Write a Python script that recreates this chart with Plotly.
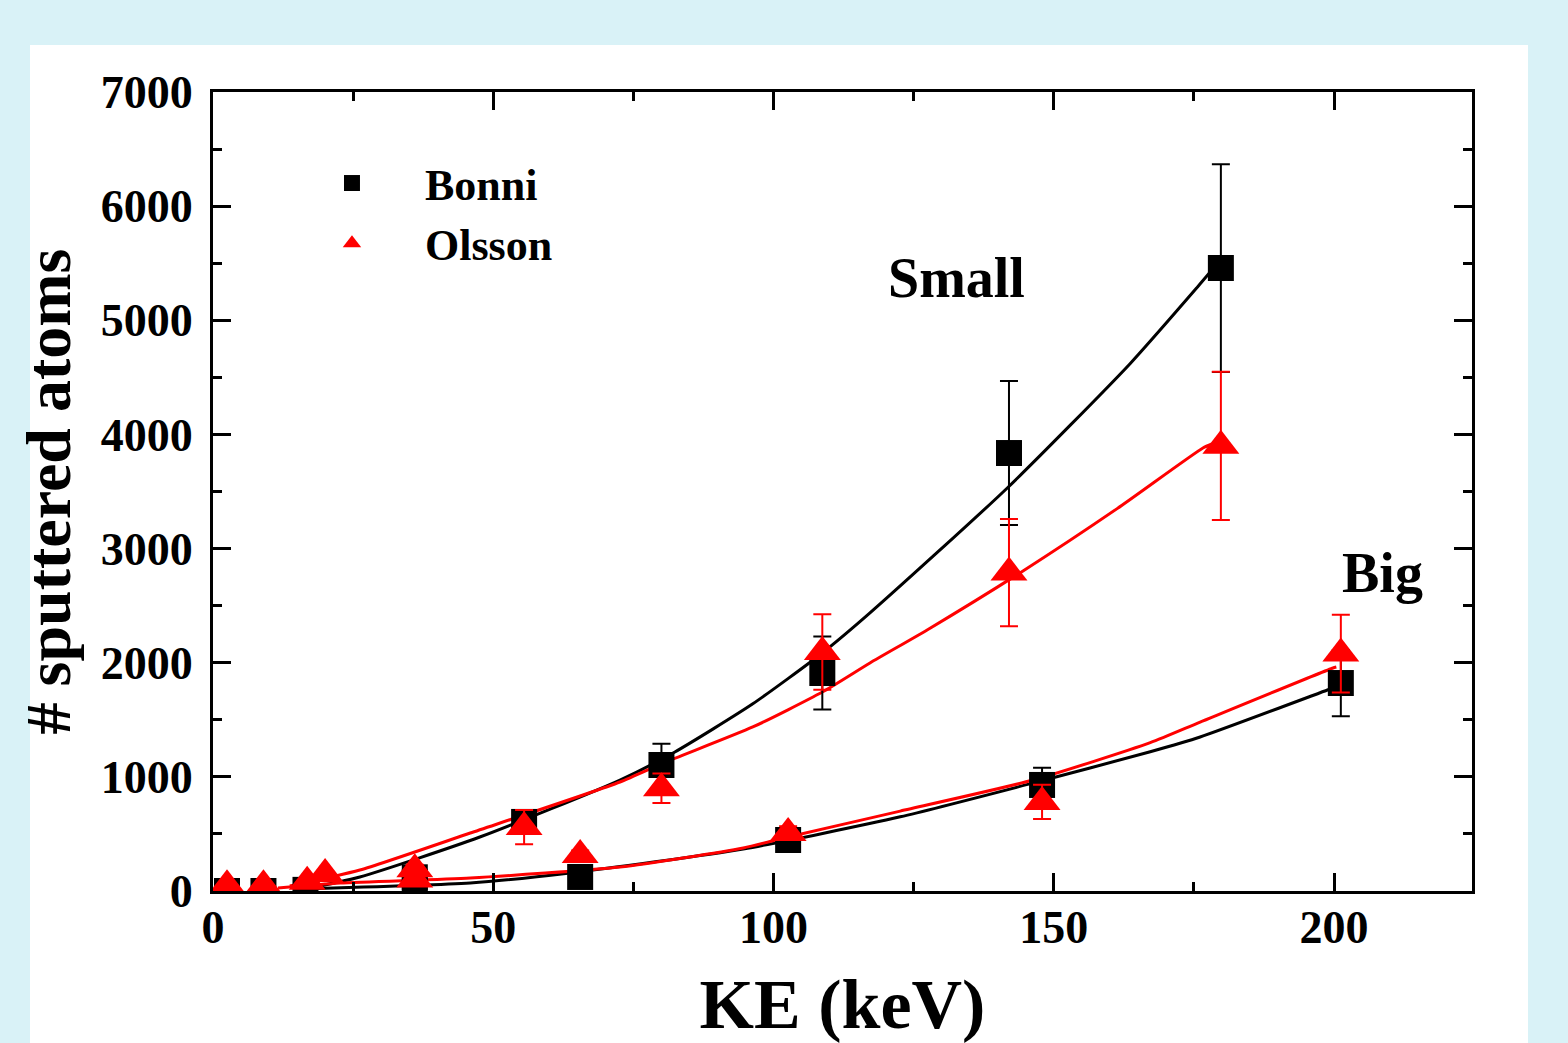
import plotly.graph_objects as go

# ---------------- data ----------------
# "Small" cluster – Bonni (squares)
small_bonni_x = [2.5, 9.0, 16.5, 36.0, 55.5, 80.0, 108.7, 142.0, 179.8]
small_bonni_y = [0, 0, 10, 120, 605, 1104, 1910, 3837, 5458]
small_bonni_err = [0, 0, 0, 30, 60, 185, 320, 630, 910]

# "Small" cluster – Olsson (triangles)
small_olsson_x = [2.5, 9.0, 16.8, 20.0, 36.0, 55.5, 80.0, 108.7, 142.0, 179.8]
small_olsson_y = [50, 50, 80, 150, 190, 560, 900, 2094, 2790, 3900]
small_olsson_err = [0, 0, 0, 0, 40, 150, 130, 330, 470, 650]

# "Big" cluster – Bonni (squares)
big_bonni_x = [36.0, 65.5, 102.6, 147.9, 201.2]
big_bonni_y = [80, 123, 447, 929, 1822]
big_bonni_err = [20, 30, 50, 150, 290]

# "Big" cluster – Olsson (triangles)
big_olsson_x = [36.0, 65.5, 102.6, 147.9, 201.2]
big_olsson_y = [100, 315, 508, 780, 2080]
big_olsson_err = [30, 40, 60, 150, 340]

# fitted curves
fit_small_bonni_x = [15.5, 26.2, 47.6, 72.6, 82.4, 96.3, 108.7, 117.2, 141.7, 163.6, 175.6, 178.2]
fit_small_bonni_y = [9, 123, 473, 972, 1218, 1640, 2085, 2436, 3531, 4620, 5290, 5440]

fit_small_olsson_x = [13.7, 26.2, 45.9, 72.6, 80.3, 96.3, 108.7, 117.2, 127.4, 144.5, 161.3, 176.6, 178.2]
fit_small_olsson_y = [44, 184, 508, 955, 1121, 1437, 1743, 1998, 2287, 2804, 3350, 3881, 3916]

fit_big_bonni_x = [15.5, 45.9, 63.7, 94.6, 122.6, 146.3, 167.2, 176.1, 198.8, 199.8]
fit_big_bonni_y = [18, 70, 158, 368, 650, 946, 1220, 1349, 1761, 1779]

fit_big_olsson_x = [11.6, 22.7, 45.9, 72.6, 94.6, 102.6, 122.6, 146.3, 167.2, 176.1, 199.8, 200.4]
fit_big_olsson_y = [26, 70, 114, 210, 377, 473, 700, 972, 1300, 1480, 1954, 1962]

x_ticks = [0, 50, 100, 150, 200]
y_ticks = [0, 1000, 2000, 3000, 4000, 5000, 6000, 7000]

# ---------------- styling ----------------
FONT = "Liberation Serif"
BLACK = "#000000"
RED = "#ff0000"
BG = "#d9f2f7"

fig = go.Figure()

# curves
for xs, ys, col in [
    (fit_small_bonni_x, fit_small_bonni_y, BLACK),
    (fit_small_olsson_x, fit_small_olsson_y, RED),
    (fit_big_bonni_x, fit_big_bonni_y, BLACK),
    (fit_big_olsson_x, fit_big_olsson_y, RED),
]:
    fig.add_trace(go.Scatter(x=xs, y=ys, mode="lines",
                             line=dict(color=col, width=3, shape="spline", smoothing=0.6),
                             showlegend=False, hoverinfo="skip"))

def pts(xs, ys, err, col, symbol, size, name, show):
    return go.Scatter(
        x=xs, y=ys, mode="markers", name=name, legendgroup=name, showlegend=show,
        marker=dict(color=col, symbol=symbol, size=size, line=dict(width=0)),
        error_y=dict(type="data", array=err, visible=True, color=col, thickness=2, width=9),
    )

fig.add_trace(pts(small_bonni_x, small_bonni_y, small_bonni_err, BLACK, "square", 26, "Bonni", True))
fig.add_trace(pts(big_bonni_x, big_bonni_y, big_bonni_err, BLACK, "square", 26, "Bonni", False))
fig.add_trace(pts(small_olsson_x, small_olsson_y, small_olsson_err, RED, "triangle-up", 32, "Olsson", True))
fig.add_trace(pts(big_olsson_x, big_olsson_y, big_olsson_err, RED, "triangle-up", 32, "Olsson", False))

axis_common = dict(
    showline=True, linecolor=BLACK, linewidth=3, mirror="allticks",
    ticks="inside", ticklen=18, tickwidth=3, tickcolor=BLACK,
    showgrid=False, zeroline=False,
    tickfont=dict(family=FONT, size=46, color=BLACK, weight="bold"),
    automargin=False,
)

fig.update_xaxes(
    range=[0, 224.6], tickvals=x_ticks, ticktext=[str(v) for v in x_ticks],
    minor=dict(dtick=25, ticks="inside", ticklen=9, tickwidth=3, tickcolor=BLACK),
    title=dict(text="KE (keV)", font=dict(family=FONT, size=70, color=BLACK, weight="bold"), standoff=50),
    ticklabelstandoff=-6,
    **axis_common,
)
fig.update_yaxes(
    range=[0, 7000], tickvals=y_ticks, ticktext=[str(v) for v in y_ticks],
    minor=dict(dtick=500, ticks="inside", ticklen=9, tickwidth=3, tickcolor=BLACK),
    title=dict(text="# sputtered atoms", font=dict(family=FONT, size=64, color=BLACK, weight="bold"), standoff=10),
    ticklabelstandoff=8,
    **axis_common,
)

# white panel
fig.add_shape(type="rect", xref="paper", yref="paper",
              x0=-0.14535, x1=1.04448, y0=-0.25, y1=1.05882,
              fillcolor="white", line=dict(width=0), layer="below")

fig.add_annotation(x=132.6, y=5371, text="Small", showarrow=False,
                   font=dict(family=FONT, size=56, color=BLACK, weight="bold"))
fig.add_annotation(x=208.7, y=2786, text="Big", showarrow=False,
                   font=dict(family=FONT, size=56, color=BLACK, weight="bold"))

fig.update_layout(
    width=1568, height=1043,
    margin=dict(l=213, r=96, t=92, b=152),
    paper_bgcolor=BG, plot_bgcolor="white",
    legend=dict(x=0.0524, y=0.93, xanchor="left", yanchor="top",
                bgcolor="rgba(0,0,0,0)", itemwidth=136,
                font=dict(family=FONT, size=44, color=BLACK, weight="bold"),
                tracegroupgap=0),
)

fig.write_html("out.html", config={"displayModeBar": False},
               post_script="document.body.style.margin='0';document.body.style.background='%s';" % BG)
